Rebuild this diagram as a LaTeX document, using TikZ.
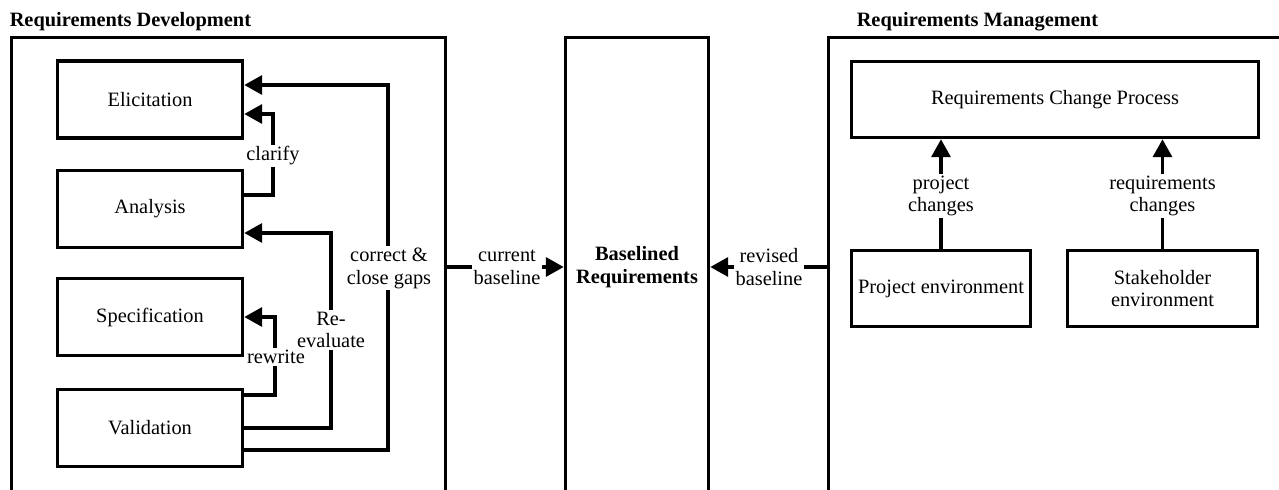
\documentclass[tikz,border=0pt]{standalone}
\usepackage{fontspec}
\setmainfont{Liberation Serif}
\usetikzlibrary{arrows.meta, calc, positioning}

\begin{document}
\begin{tikzpicture}[
    x=0.02cm, y=-0.02cm,
    font=\fontsize{11.6pt}{13pt}\selectfont,
    line width=2pt,
    panel/.style={draw, inner sep=0pt},
    stepbox/.style={draw, minimum width=3.7cm, minimum height=1.54cm, align=center},
    envbox/.style={draw, minimum height=1.52cm, align=center, inner sep=1pt},
    title/.style={font=\fontsize{11.6pt}{13pt}\selectfont\bfseries, anchor=base west, inner sep=0pt},
    lbl/.style={fill=white, align=center, inner sep=1pt},
    arr/.style={-{Triangle[length=0.36cm, width=0.38cm]}},
  ]

  \clip (0,0) rectangle (1279,490);

  % ---- the three columns (open at the bottom) ---------------------------
  \node[panel, minimum width=8.68cm, minimum height=9.18cm] (devpanel) at (228.5,267) {};
  \node[panel, minimum width=2.86cm, minimum height=9.18cm, font=\fontsize{11.6pt}{13pt}\selectfont\bfseries, align=center]
       (basereq) at (637,267) {Baselined\\ Requirements};
  \node[panel, minimum width=9.6cm, minimum height=9.18cm] (mgmtpanel) at (1068.5,267) {};

  \node[title] (devtitle)  at (8,27)   {Requirements Development};
  \node[title] (mgmttitle) at (855,27) {Requirements Management};

  % ---- development steps ------------------------------------------------
  \node[stepbox] (eli) at (150,99.5) {Elicitation};
  \node[stepbox] (ana) at (150,209)  {Analysis};
  \node[stepbox] (spe) at (150,317)  {Specification};
  \node[stepbox] (val) at (150,428)  {Validation};

  % ---- feedback loops ---------------------------------------------------
  \draw[arr] ($(val.east)+(0,22)$) -| (388,85) -- ($(eli.east)+(0,-14.5)$);
  \draw[arr] ($(ana.east)+(0,-14)$) -| (273,114) -- ($(eli.east)+(0,14.5)$);
  \draw[arr] (val.east) -| (331,233) -- ($(ana.east)+(0,24)$);
  \draw[arr] ($(val.east)+(0,-33)$) -| (275,317) -- (spe.east);

  \node[lbl] (lcorrect) at (389,268) {correct \&\\ close gaps};
  \node[lbl] (lclarify) at (273,156) {clarify};
  \node[lbl] (lreeval)  at (331,330) {Re-\\ evaluate};
  \node[lbl] (lrewrite) at (276,357) {rewrite};

  % ---- baselines --------------------------------------------------------
  \draw[arr] (devpanel.east) -- (basereq.west);
  \draw[arr] (mgmtpanel.west) -- (basereq.east);
  \node[lbl] (lcurrent) at (507,267) {current\\ baseline};
  \node[lbl] (lrevised) at (769,267) {revised\\ baseline};

  % ---- requirements management -----------------------------------------
  \node[envbox, minimum width=8.14cm] (rcp) at (1055,99.5) {Requirements Change Process};
  \node[envbox, minimum width=3.58cm] (pe)  at (941,288.5)  {Project environment};
  \node[envbox, minimum width=3.8cm]  (sh)  at (1162.5,288.5) {Stakeholder\\ environment};

  \draw[arr] (pe.north) -- (pe.north |- rcp.south);
  \draw[arr] (sh.north) -- (sh.north |- rcp.south);
  \node[lbl] (lproj) at (941,196)    {project\\ changes};
  \node[lbl] (lreq)  at (1162.5,196) {requirements\\ changes};

\end{tikzpicture}
\end{document}
